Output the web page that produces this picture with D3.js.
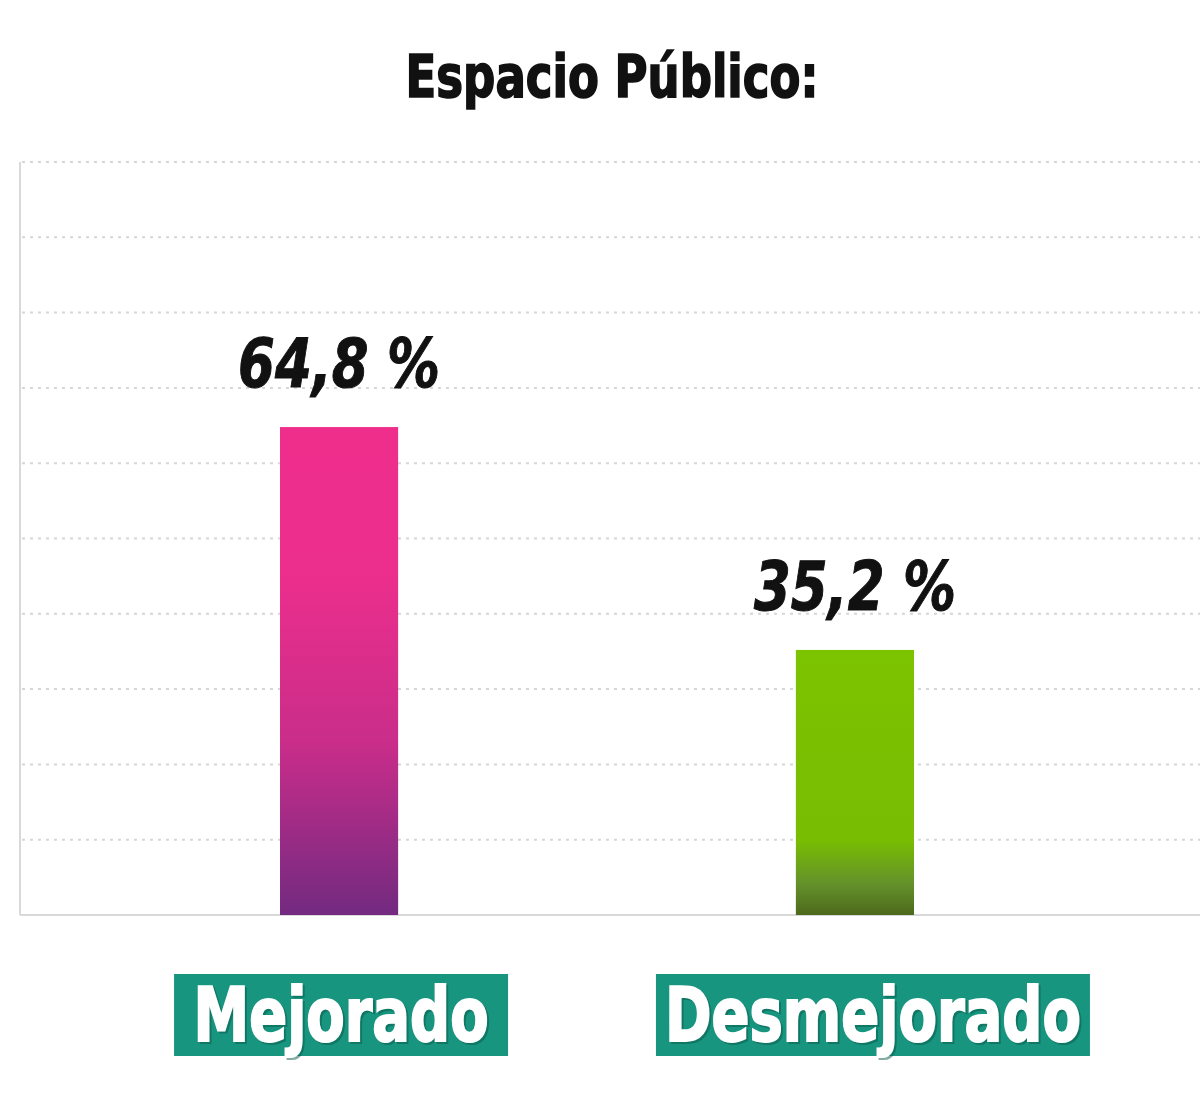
<!DOCTYPE html>
<html>
<head>
<meta charset="utf-8">
<script src="https://cdn.jsdelivr.net/npm/d3@7"></script>
<style>
  body { margin: 0; background: #fff; }
  svg { display: block; }
</style>
</head>
<body>
<svg id="chart"></svg>
<script>
const width = 1200;
const height = 1110;

// data
const categories = ["Mejorado", "Desmejorado"];
const values = [64.8, 35.2];
const valueLabels = ["64,8 %", "35,2 %"];
const gridTicks = [0, 10, 20, 30, 40, 50, 60, 70, 80, 90, 100];

const condensed = "'Liberation Sans Narrow', 'DejaVu Sans Condensed', 'Roboto Condensed', sans-serif";

const svg = d3.select("#chart")
    .attr("width", width)
    .attr("height", height);

const x = d3.scaleBand()
    .domain(categories)
    .range([20, 1174])
    .paddingInner(0.771)
    .paddingOuter(0.504);

const y = d3.scaleLinear()
    .domain([0, 100])
    .range([915, 162]);

// gradients
const defs = svg.append("defs");
const gradients = [
    { id: "g0", stops: [[0, "#ef2e8c"], [0.3, "#ec2e8c"], [0.65, "#c92d8a"], [1, "#722a80"]] },
    { id: "g1", stops: [[0, "#7cc300"], [0.72, "#78bd02"], [0.88, "#64922a"], [1, "#4d691c"]] }
];
gradients.forEach(g => {
    const lg = defs.append("linearGradient")
        .attr("id", g.id)
        .attr("x1", 0).attr("y1", 0).attr("x2", 0).attr("y2", 1);
    g.stops.forEach(s => lg.append("stop").attr("offset", s[0]).attr("stop-color", s[1]));
});

// title
svg.append("text")
    .attr("x", 612)
    .attr("y", 97)
    .attr("text-anchor", "middle")
    .attr("font-family", condensed)
    .attr("font-weight", "bold")
    .attr("font-size", 58)
    .attr("textLength", 413)
    .attr("lengthAdjust", "spacingAndGlyphs")
    .attr("fill", "#111")
    .attr("stroke", "#111")
    .attr("stroke-width", 1.6)
    .text("Espacio Público:");

// gridlines
svg.append("g")
    .selectAll("line")
    .data(gridTicks.filter(d => d > 0))
    .join("line")
    .attr("x1", 22)
    .attr("x2", width)
    .attr("y1", d => y(d))
    .attr("y2", d => y(d))
    .attr("stroke", "#d6d6d6")
    .attr("stroke-width", 2)
    .attr("stroke-dasharray", "3,5");

// axis lines
svg.append("line")
    .attr("x1", 20).attr("x2", 20)
    .attr("y1", y(100)).attr("y2", y(0))
    .attr("stroke", "#d9d9d9")
    .attr("stroke-width", 2);
svg.append("line")
    .attr("x1", 20).attr("x2", width)
    .attr("y1", y(0)).attr("y2", y(0))
    .attr("stroke", "#d9d9d9")
    .attr("stroke-width", 2);

// bars
svg.append("g")
    .selectAll("rect")
    .data(categories)
    .join("rect")
    .attr("x", d => x(d))
    .attr("width", x.bandwidth())
    .attr("y", (d, i) => y(values[i]))
    .attr("height", (d, i) => y(0) - y(values[i]))
    .attr("fill", (d, i) => `url(#g${i})`);

// value labels
svg.append("g")
    .selectAll("text")
    .data(categories)
    .join("text")
    .attr("x", d => x(d) + x.bandwidth() / 2)
    .attr("y", (d, i) => y(values[i]) - 40)
    .attr("text-anchor", "middle")
    .attr("font-family", condensed)
    .attr("font-weight", "bold")
    .attr("font-style", "italic")
    .attr("font-size", 68)
    .attr("textLength", 202)
    .attr("lengthAdjust", "spacingAndGlyphs")
    .attr("fill", "#111")
    .attr("stroke", "#111")
    .attr("stroke-width", 1)
    .text((d, i) => valueLabels[i]);

// category boxes (label boxes sit a bit right of the bar centre)
const boxW = { "Mejorado": 334, "Desmejorado": 434 };
const textW = { "Mejorado": 295, "Desmejorado": 416 };
const boxShift = { "Mejorado": 2, "Desmejorado": 18 };
const cx = d => x(d) + x.bandwidth() / 2 + boxShift[d];

const cat = svg.append("g")
    .selectAll("g")
    .data(categories)
    .join("g");

cat.append("rect")
    .attr("x", d => cx(d) - boxW[d] / 2)
    .attr("y", 974)
    .attr("width", d => boxW[d])
    .attr("height", 82)
    .attr("fill", "#17957f");

cat.append("text")
    .attr("x", d => cx(d) + 2)
    .attr("y", 1043)
    .attr("text-anchor", "middle")
    .attr("font-family", condensed)
    .attr("font-weight", "bold")
    .attr("font-size", 74)
    .attr("textLength", d => textW[d])
    .attr("lengthAdjust", "spacingAndGlyphs")
    .attr("fill", "#0b5a4c")
    .attr("stroke", "#0b5a4c")
    .attr("stroke-width", 2)
    .attr("opacity", 0.5)
    .text(d => d);

cat.append("text")
    .attr("x", d => cx(d))
    .attr("y", 1041)
    .attr("text-anchor", "middle")
    .attr("font-family", condensed)
    .attr("font-weight", "bold")
    .attr("font-size", 74)
    .attr("textLength", d => textW[d])
    .attr("lengthAdjust", "spacingAndGlyphs")
    .attr("fill", "#fff")
    .attr("stroke", "#fff")
    .attr("stroke-width", 2)
    .text(d => d);
</script>
</body>
</html>
